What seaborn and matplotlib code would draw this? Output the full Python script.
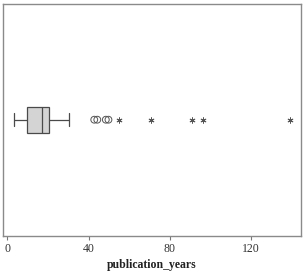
import numpy as np
import pandas as pd
import seaborn as sns
import matplotlib.pyplot as plt

# box summary: lower whisker, Q1, median, Q3, upper whisker
box_stats = [3.4, 9.6, 17.3, 20.6, 30.4]
# outliers (circles) and extreme values (stars)
outliers = [42.8, 44.3, 48.5, 49.8]
extremes = [55, 71, 91, 96.2, 139]
xticks = [0, 40, 80, 120]

sns.set_theme(style="white")
plt.rcParams['font.family'] = ['Liberation Serif', 'DejaVu Serif']

fig = plt.figure(figsize=(3.04, 2.74), dpi=100)
ax = fig.add_axes([2.7 / 304, 1 - 235.7 / 274, 298.6 / 304, 232 / 274])

# five values -> percentiles 0/25/50/75/100 give exactly the box stats
df = pd.DataFrame({"publication_years": box_stats, "g": 0})
sns.boxplot(data=df, x="publication_years", y="g", orient="h", whis=(0, 100),
            width=0.224, color="#d4d4d4", linecolor="#4a4a4a", linewidth=0.9,
            showfliers=False, ax=ax, native_scale=True)

sns.scatterplot(x=outliers, y=[0] * len(outliers), marker="o", s=24,
                facecolor="none", edgecolor="#555555", linewidth=0.7, ax=ax, zorder=3)
sns.scatterplot(x=extremes, y=[0] * len(extremes), marker=(6, 2, 0), s=14,
                color="#555555", linewidth=0.7, ax=ax, zorder=3)

ax.set_xlim(-2.3, 144.8)
ax.set_ylim(1, -1)
ax.set_yticks([])
ax.set_ylabel("")
ax.set_xticks(xticks)
ax.set_xticklabels([str(t) for t in xticks], fontsize=8.5, color="#333333")
ax.tick_params(axis="x", bottom=True, length=3, width=0.8, color="#777777", pad=2)
ax.set_xlabel("publication_years", fontsize=8.5, fontweight="bold", color="#222222", labelpad=3)
for s in ax.spines.values():
    s.set_color("#8a8a8a")
    s.set_linewidth(1.0)

fig.savefig("out.png", dpi=100)
